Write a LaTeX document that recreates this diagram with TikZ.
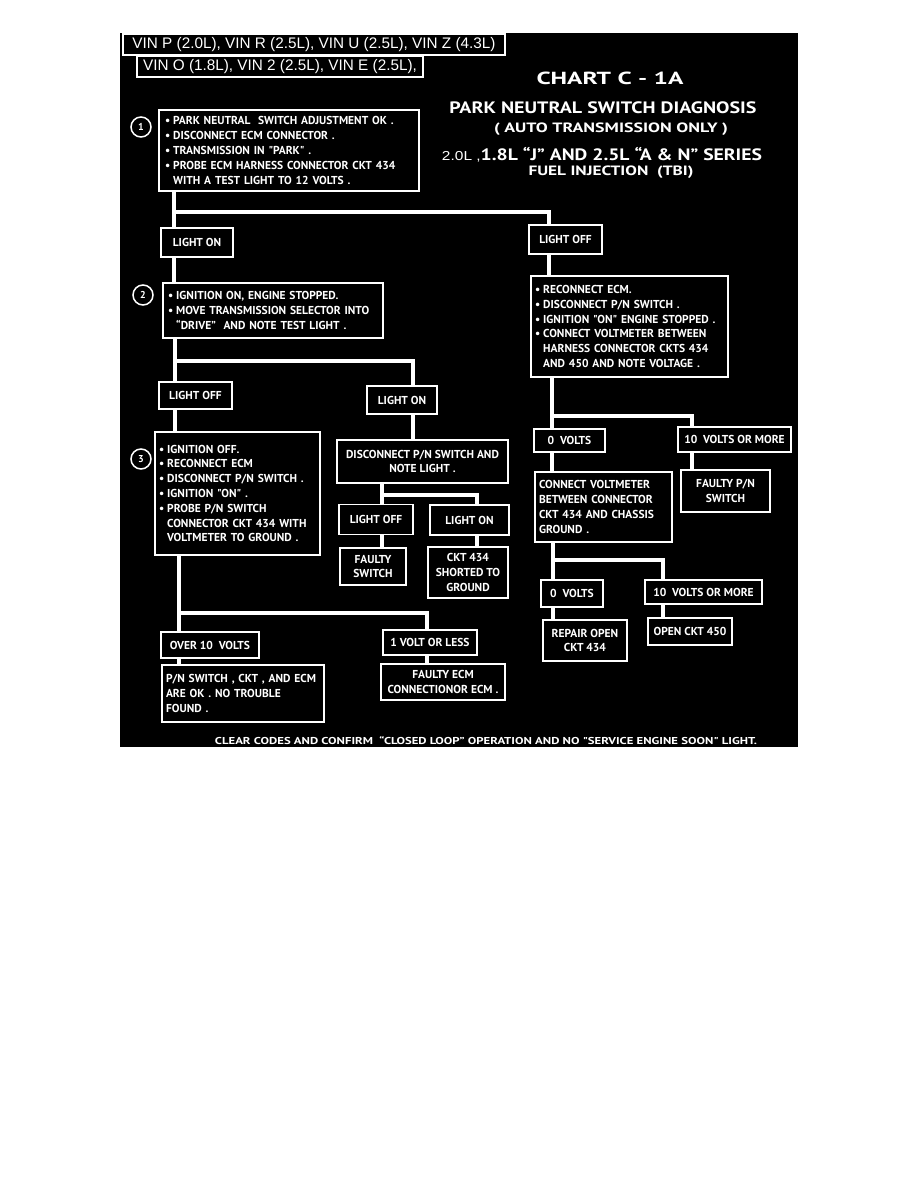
\documentclass[tikz,border=0pt]{standalone}
\usepackage{graphicx}
\usepackage{fontspec}
\setmainfont{PT Sans}
\newfontfamily\vinfont{Liberation Sans}
\newfontfamily\chartfont{PT Sans}
\newcommand\bu{•\hspace{3pt}}
\newcommand\ind{\hphantom{•\hspace{3pt}}}
\tikzset{
  box/.style={draw=white, line width=1.6pt, fill=black, text=white, inner sep=0pt,
    font=\chartfont\bfseries\fontsize{11.5}{14.8}\selectfont},
  cbox/.style={box, align=center},
  lbox/.style={box, align=left},
  vinbox/.style={draw=white, line width=1.2pt, text=white, inner sep=0pt,
    font=\vinfont\fontsize{15.3}{17}\selectfont},
  title/.style={text=white, inner sep=0pt, font=\chartfont\bfseries},
  conn/.style={draw=white, line width=3.4pt},
  num/.style={circle, draw=white, line width=1.5pt, text=white, minimum size=20pt, inner sep=0pt,
    font=\chartfont\bfseries\fontsize{10}{11}\selectfont}
}
\begin{document}
\begin{tikzpicture}[x=1pt,y=-1pt]
\useasboundingbox (0,0) rectangle (918,1188);
\fill[white] (0,0) rectangle (918,1188);
\fill[black] (120,33) rectangle (798,747);

% VIN headers
\node[vinbox, minimum width=382pt, minimum height=21pt] (vin1) at (314,44.5) {VIN P (2.0L), VIN R (2.5L), VIN U (2.5L), VIN Z (4.3L)};
\node[vinbox, minimum width=286pt, minimum height=21pt] (vin2) at (280,66.5) {VIN O (1.8L), VIN 2 (2.5L), VIN E (2.5L),};

% titles
\node[title] (t1) at (610,78) {\resizebox{147pt}{\height}{\fontsize{17.5}{20}\selectfont CHART C - 1A}};
\node[title] (t2) at (603,108) {\resizebox{307pt}{\height}{\fontsize{16.5}{20}\selectfont PARK NEUTRAL SWITCH DIAGNOSIS}};
\node[title] (t3) at (611,129) {\resizebox{234pt}{\height}{\fontsize{13.5}{16}\selectfont ( AUTO TRANSMISSION ONLY )}};
\node[title] (t4) at (602,155) {\resizebox{320pt}{\height}{{\vinfont\mdseries\fontsize{13}{16}\selectfont 2.0L ,}\fontsize{16.5}{20}\selectfont 1.8L “J” AND 2.5L “A \& N” SERIES}};
\node[title] (t5) at (611,172) {\resizebox{165pt}{\height}{\fontsize{13.5}{16}\selectfont FUEL INJECTION\ \ (TBI)}};

% step numbers
\node[num] (n1) at (141,127) {1};
\node[num] (n2) at (143,295) {2};
\node[num] (n3) at (141,459) {3};

% left column
\node[lbox, text width=248pt, inner xsep=6pt, minimum height=81pt] (b1) at (289,150.5)
 {\bu PARK NEUTRAL\ \ SWITCH ADJUSTMENT OK .\\
  \bu DISCONNECT ECM CONNECTOR .\\
  \bu TRANSMISSION IN "PARK" .\\
  \bu PROBE ECM HARNESS CONNECTOR CKT 434\\
  \ind WITH A TEST LIGHT TO 12 VOLTS .};
\node[cbox, minimum width=72pt, minimum height=29pt] (lon1) at (197,242.5) {LIGHT ON};
\node[cbox, minimum width=73pt, minimum height=29pt] (lof1) at (565.5,239.5) {LIGHT OFF};
\node[lbox, text width=210pt, inner xsep=5pt, minimum height=55pt] (b2) at (273,310.5)
 {\bu IGNITION ON, ENGINE STOPPED.\\
  \bu MOVE TRANSMISSION SELECTOR INTO\\
  \ind “DRIVE”\ \ AND NOTE TEST LIGHT .};
\node[lbox, text width=189pt, inner xsep=4pt, minimum height=101pt] (br) at (629.5,326.5)
 {\bu RECONNECT ECM.\\
  \bu DISCONNECT P/N SWITCH .\\
  \bu IGNITION "ON" ENGINE STOPPED .\\
  \bu CONNECT VOLTMETER BETWEEN\\
  \ind HARNESS CONNECTOR CKTS 434\\
  \ind AND 450 AND NOTE VOLTAGE .};
\node[cbox, minimum width=73pt, minimum height=27pt] (lof2) at (195.5,395.5) {LIGHT OFF};
\node[cbox, minimum width=70pt, minimum height=28pt] (lon2) at (402,400) {LIGHT ON};
\node[lbox, text width=157pt, inner xsep=4pt, minimum height=123pt] (b3) at (237.5,493.5)
 {\bu IGNITION OFF.\\
  \bu RECONNECT ECM\\
  \bu DISCONNECT P/N SWITCH .\\
  \bu IGNITION "ON" .\\
  \bu PROBE P/N SWITCH\\
  \ind CONNECTOR CKT 434 WITH\\
  \ind VOLTMETER TO GROUND .};
\node[cbox, minimum width=171pt, minimum height=43pt] (disc) at (422.5,461.5)
 {DISCONNECT P/N SWITCH AND\\ NOTE LIGHT .};
\node[cbox, minimum width=74pt, minimum height=30pt] (lof3) at (376,519.5) {LIGHT OFF};
\node[cbox, minimum width=79pt, minimum height=30pt] (lon3) at (469.5,520) {LIGHT ON};
\node[cbox, minimum width=66pt, minimum height=37pt] (fsw) at (373,566.5) {FAULTY\\ SWITCH};
\node[cbox, minimum width=80pt, minimum height=51pt] (ckt) at (468,572.5) {CKT 434\\ SHORTED TO\\ GROUND};
\node[cbox, minimum width=98pt, minimum height=26pt] (o10) at (210,645) {OVER 10\ \ VOLTS};
\node[cbox, minimum width=94pt, minimum height=25pt] (v1) at (430,642.5) {1 VOLT OR LESS};
\node[lbox, text width=154pt, inner xsep=4pt, minimum height=57pt] (pn) at (243,693.5)
 {P/N SWITCH , CKT , AND ECM\\ ARE OK . NO TROUBLE\\ FOUND .};
\node[cbox, minimum width=124pt, minimum height=36pt] (fecm) at (443,682)
 {FAULTY ECM\\ CONNECTIONOR ECM .};

% right column
\node[cbox, minimum width=71pt, minimum height=23pt] (v0a) at (569.5,440.5) {0\ \ VOLTS};
\node[cbox, minimum width=113pt, minimum height=25pt] (v10a) at (734.5,439.5) {10\ \ VOLTS OR MORE};
\node[lbox, text width=129pt, inner xsep=4pt, minimum height=70pt] (cv) at (603.5,507)
 {CONNECT VOLTMETER\\ BETWEEN CONNECTOR\\ CKT 434 AND CHASSIS\\ GROUND .};
\node[cbox, minimum width=89pt, minimum height=42pt] (fpn) at (725.5,491) {FAULTY P/N\\ SWITCH};
\node[cbox, minimum width=62pt, minimum height=27pt] (v0b) at (572,593.5) {0\ \ VOLTS};
\node[cbox, minimum width=117pt, minimum height=24pt] (v10b) at (703.5,592) {10\ \ VOLTS OR MORE};
\node[cbox, minimum width=84pt, minimum height=41pt] (rep) at (585,640.5) {REPAIR OPEN\\ CKT 434};
\node[cbox, minimum width=84pt, minimum height=27pt] (o450) at (690,631.5) {OPEN CKT 450};

% bottom note
\node[title] (foot) at (486,741) {\resizebox{542pt}{\height}{\fontsize{10}{12}\selectfont CLEAR CODES AND CONFIRM\ \ “CLOSED LOOP” OPERATION AND NO "SERVICE ENGINE SOON" LIGHT.}};

% junction coordinates
\coordinate (j1) at (174,212);
\coordinate (j1r) at (549,212);
\coordinate (j2) at (175,361);
\coordinate (j2r) at (413,361);
\coordinate (j3) at (382,495);
\coordinate (j3r) at (477,495);
\coordinate (j4) at (179,613);
\coordinate (j4r) at (427,613);
\coordinate (j5) at (552,416);
\coordinate (j5r) at (692,416);
\coordinate (j6) at (553,560);
\coordinate (j6r) at (663,560);

% connectors
\draw[conn] (b1.south -| j1) -- (j1) -- (j1r) -- (j1r |- lof1.north);
\draw[conn] (j1) -- (j1 |- lon1.north);
\draw[conn] (lon1.south -| j1) -- (j1 |- b2.north);
\draw[conn] (lof1.south -| j1r) -- (j1r |- br.north);

\draw[conn] (b2.south -| j2) -- (j2) -- (j2r) -- (j2r |- lon2.north);
\draw[conn] (j2) -- (j2 |- lof2.north);
\draw[conn] (lof2.south -| j2) -- (j2 |- b3.north);
\draw[conn] (lon2.south -| j2r) -- (j2r |- disc.north);

\draw[conn] (disc.south -| j3) -- (j3) -- (j3r) -- (j3r |- lon3.north);
\draw[conn] (j3) -- (j3 |- lof3.north);
\draw[conn] (lof3.south -| j3) -- (j3 |- fsw.north);
\draw[conn] (lon3.south -| j3r) -- (j3r |- ckt.north);

\draw[conn] (b3.south -| j4) -- (j4) -- (j4r) -- (j4r |- v1.north);
\draw[conn] (j4) -- (j4 |- o10.north);
\draw[conn] (o10.south -| j4) -- (j4 |- pn.north);
\draw[conn] (v1.south -| j4r) -- (j4r |- fecm.north);

\draw[conn] (br.south -| j5) -- (j5) -- (j5r) -- (j5r |- v10a.north);
\draw[conn] (j5) -- (j5 |- v0a.north);
\draw[conn] (v0a.south -| j5) -- (j5 |- cv.north);
\draw[conn] (v10a.south -| j5r) -- (j5r |- fpn.north);

\draw[conn] (cv.south -| j6) -- (j6) -- (j6r) -- (j6r |- v10b.north);
\draw[conn] (j6) -- (j6 |- v0b.north);
\draw[conn] (v0b.south -| j6) -- (j6 |- rep.north);
\draw[conn] (v10b.south -| j6r) -- (j6r |- o450.north);
\end{tikzpicture}
\end{document}
